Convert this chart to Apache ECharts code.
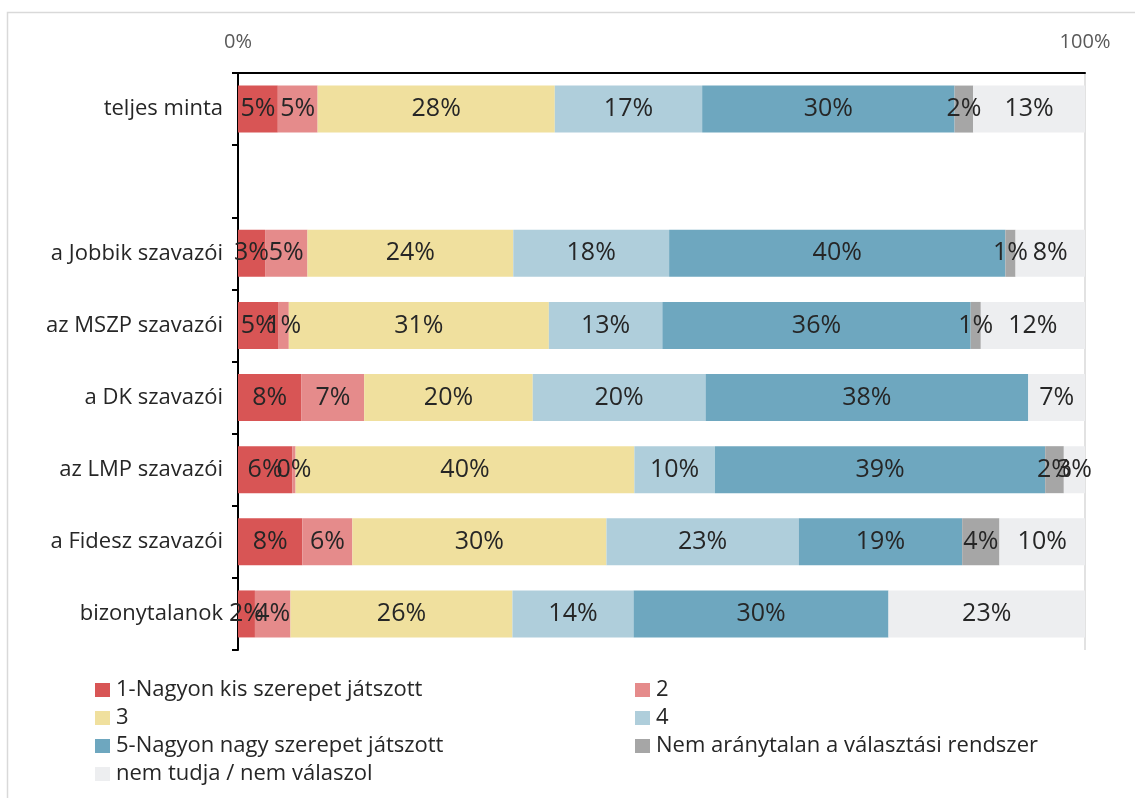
<!DOCTYPE html>
<html>
<head>
<meta charset="utf-8">
<script src="https://cdn.jsdelivr.net/npm/echarts@6/dist/echarts.min.js"></script>
<style>html,body{margin:0;padding:0;background:#fff;}#c{width:1135px;height:798px;}</style>
</head>
<body>
<div id="c"></div>
<script>
const categories = ['teljes minta', '', 'a Jobbik szavazói', 'az MSZP szavazói', 'a DK szavazói', 'az LMP szavazói', 'a Fidesz szavazói', 'bizonytalanok'];
const seriesNames = ['1-Nagyon kis szerepet játszott', '2', '3', '4', '5-Nagyon nagy szerepet játszott', 'Nem aránytalan a választási rendszer', 'nem tudja / nem válaszol'];
const s1 = [4.7, null, 3.2, 4.8, 7.5, 6.4, 7.6, 2.0];
const s2 = [4.7, null, 5.0, 1.2, 7.4, 0.4, 5.9, 4.2];
const s3 = [28.0, null, 24.3, 30.7, 19.9, 40.0, 30.0, 26.2];
const s4 = [17.4, null, 18.4, 13.4, 20.4, 9.5, 22.7, 14.3];
const s5 = [29.8, null, 39.7, 36.4, 38.1, 39.0, 19.3, 30.1];
const s6 = [2.2, null, 1.2, 1.2, 0, 2.2, 4.4, 0];
const s7 = [13.2, null, 8.2, 12.3, 6.7, 2.5, 10.1, 23.2];
const xTickLabels = ['0%', '100%'];
const colors = ['#D85555', '#E58B8B', '#F0E09E', '#AFCEDB', '#6EA7BF', '#A6A6A6', '#EDEEF0'];

const allData = [s1, s2, s3, s4, s5, s6, s7];
const font = 'Open Sans';
const chart = echarts.init(document.getElementById('c'));
chart.setOption({
  animation: false,
  textStyle: { fontFamily: font },
  graphic: [{
    type: 'rect', shape: { x: 7.5, y: 12.5, width: 1140, height: 800 },
    style: { fill: 'none', stroke: '#D9D9D9', lineWidth: 1.5 }, silent: true
  }],
  grid: { left: 238, right: 50, top: 73, bottom: 148 },
  xAxis: {
    type: 'value', position: 'top', min: 0, max: 100, interval: 100,
    axisLine: { show: true, lineStyle: { color: '#000', width: 2 } },
    axisTick: { show: false },
    splitLine: { show: true, lineStyle: { color: '#D9D9D9', width: 1.5 } },
    axisLabel: {
      color: '#595959', fontSize: 20, fontFamily: font, margin: 21,
      formatter: v => (v === 0 ? xTickLabels[0] : xTickLabels[1])
    }
  },
  yAxis: {
    type: 'category', data: categories, inverse: true,
    axisLine: { show: true, lineStyle: { color: '#000', width: 2 } },
    axisTick: { show: true, length: 6, lineStyle: { color: '#000', width: 2 } },
    axisLabel: { color: '#262626', fontSize: 22, fontFamily: font, margin: 15 }
  },
  legend: [
    {
      orient: 'vertical', left: 90, top: 674, itemGap: 6, itemWidth: 15, itemHeight: 14,
      icon: 'rect', textStyle: { fontSize: 22, color: '#262626', fontFamily: font, padding: [0, 0, 0, 1] },
      data: [seriesNames[0], seriesNames[2], seriesNames[4], seriesNames[6]]
    },
    {
      orient: 'vertical', left: 630, top: 674, itemGap: 6, itemWidth: 15, itemHeight: 14,
      icon: 'rect', textStyle: { fontSize: 22, color: '#262626', fontFamily: font, padding: [0, 0, 0, 1] },
      data: [seriesNames[1], seriesNames[3], seriesNames[5]]
    }
  ],
  series: seriesNames.map((n, i) => ({
    name: n, type: 'bar', stack: 'total', barWidth: 47,
    itemStyle: { color: colors[i] },
    label: {
      show: true, position: 'inside', color: '#262626', fontSize: 25, fontFamily: font,
      formatter: p => (p.value === null || p.value === 0 || p.value === undefined) ? '' : Math.round(p.value) + '%'
    },
    data: allData[i]
  }))
});
</script>
</body>
</html>
